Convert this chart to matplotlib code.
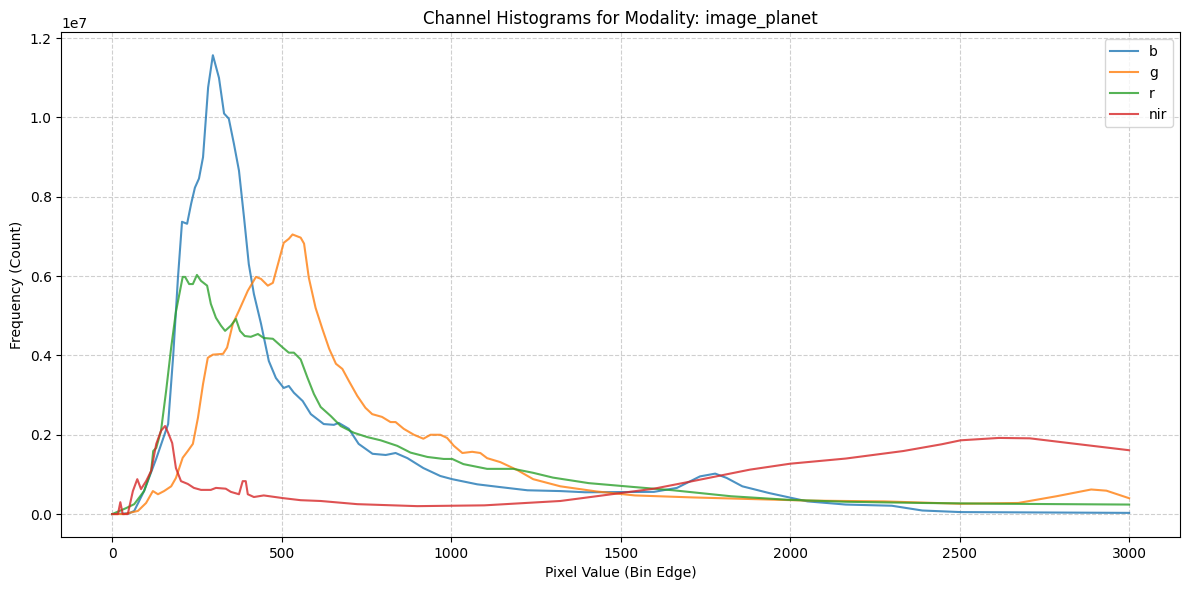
import numpy as np
import matplotlib
matplotlib.use("Agg")
import matplotlib.pyplot as plt

# channel histograms (x = bin edge, y in millions of counts)
b_x = [0, 50, 65, 94, 130, 165, 180, 194, 206, 221, 233, 244, 256, 268, 283, 297, 315, 330,
       344, 359, 374, 389, 403, 418, 439, 462, 483, 506, 521, 536, 562, 586, 624, 654, 668,
       698, 727, 768, 807, 836, 871, 918, 968, 1003, 1077, 1145, 1225, 1322, 1395, 1598,
       1666, 1734, 1779, 1813, 1859, 1938, 2051, 2164, 2300, 2390, 2503, 3000]
b_y = [0, 0.02, 0.08, 0.58, 1.4, 2.27, 4.0, 5.96, 7.37, 7.32, 7.83, 8.23, 8.46, 9.0, 10.76,
       11.57, 11.0, 10.1, 9.97, 9.34, 8.66, 7.47, 6.3, 5.55, 4.8, 3.86, 3.43, 3.18, 3.23,
       3.06, 2.85, 2.52, 2.27, 2.25, 2.3, 2.15, 1.77, 1.52, 1.49, 1.54, 1.41, 1.16, 0.96,
       0.88, 0.75, 0.68, 0.6, 0.58, 0.55, 0.56, 0.66, 0.95, 1.02, 0.91, 0.70, 0.53, 0.32,
       0.24, 0.21, 0.09, 0.05, 0.03]

g_x = [0, 35, 76, 100, 120, 135, 153, 174, 188, 208, 223, 238, 253, 268, 282, 297, 327, 339,
       356, 374, 400, 424, 439, 459, 474, 489, 506, 521, 532, 547, 556, 566, 580, 600, 620,
       640, 660, 679, 698, 723, 747, 767, 796, 821, 836, 860, 890, 918, 939, 968, 988, 1008,
       1033, 1062, 1086, 1106, 1145, 1195, 1242, 1322, 1429, 1542, 1712, 1881, 2051, 2277,
       2503, 2673, 2786, 2888, 2933, 3000]
g_y = [0, 0, 0.08, 0.28, 0.58, 0.5, 0.58, 0.7, 0.91, 1.42, 1.59, 1.77, 2.43, 3.28, 3.94,
       4.02, 4.04, 4.2, 4.8, 5.13, 5.63, 5.98, 5.93, 5.76, 5.83, 6.3, 6.84, 6.94, 7.05, 7.0,
       6.97, 6.82, 5.96, 5.2, 4.67, 4.17, 3.79, 3.66, 3.36, 2.98, 2.68, 2.52, 2.45, 2.32,
       2.32, 2.15, 2.0, 1.9, 2.0, 2.0, 1.92, 1.72, 1.54, 1.57, 1.54, 1.41, 1.31, 1.11, 0.88,
       0.7, 0.57, 0.47, 0.42, 0.38, 0.34, 0.32, 0.26, 0.28, 0.45, 0.62, 0.59, 0.4]

r_x = [0, 41, 65, 94, 115, 121, 130, 144, 159, 174, 188, 208, 215, 227, 238, 250, 262, 280,
       291, 306, 321, 333, 350, 365, 377, 391, 409, 430, 447, 474, 503, 521, 536, 556, 576,
       595, 615, 645, 674, 713, 753, 792, 841, 880, 930, 978, 1003, 1036, 1106, 1184, 1242,
       1300, 1406, 1542, 1655, 1825, 1994, 2164, 2390, 2616, 3000]
r_y = [0, 0.15, 0.25, 0.58, 1.09, 1.59, 1.67, 2.1, 3.1, 4.2, 5.1, 5.98, 5.98, 5.8, 5.8, 6.03,
       5.88, 5.76, 5.3, 4.95, 4.75, 4.62, 4.75, 4.92, 4.62, 4.49, 4.47, 4.54, 4.44, 4.42,
       4.2, 4.07, 4.07, 3.9, 3.44, 3.03, 2.7, 2.47, 2.22, 2.05, 1.94, 1.86, 1.72, 1.55, 1.44,
       1.39, 1.39, 1.26, 1.14, 1.14, 1.04, 0.92, 0.78, 0.68, 0.6, 0.45, 0.36, 0.31, 0.28,
       0.26, 0.24]

nir_x = [0, 17, 24, 31, 46, 61, 74, 85, 100, 115, 130, 144, 156, 165, 177, 188, 203, 223,
         241, 262, 291, 306, 335, 350, 374, 385, 394, 400, 418, 447, 506, 556, 615, 723, 900,
         1098, 1322, 1429, 1598, 1712, 1881, 2000, 2164, 2334, 2447, 2503, 2616, 2707, 2843,
         3000]
nir_y = [0, 0, 0.3, 0, 0, 0.58, 0.88, 0.63, 0.83, 1.09, 1.77, 2.1, 2.22, 2.05, 1.79, 1.16,
         0.83, 0.76, 0.66, 0.61, 0.61, 0.66, 0.64, 0.56, 0.5, 0.83, 0.83, 0.5, 0.43, 0.47,
         0.4, 0.35, 0.33, 0.25, 0.2, 0.22, 0.33, 0.45, 0.64, 0.83, 1.12, 1.27, 1.4, 1.59,
         1.76, 1.86, 1.92, 1.91, 1.77, 1.61]

channels = [("b", b_x, b_y), ("g", g_x, g_y), ("r", r_x, r_y), ("nir", nir_x, nir_y)]

fig, ax = plt.subplots(figsize=(11.89, 5.90), dpi=100)
for name, xs, ys in channels:
    ax.plot(xs, np.array(ys) * 1e6, label=name, alpha=0.8, lw=1.5)

ax.set_title("Channel Histograms for Modality: image_planet")
ax.set_xlabel("Pixel Value (Bin Edge)")
ax.set_ylabel("Frequency (Count)")
ax.grid(True, ls="--", alpha=0.6)
ax.legend(loc="upper right")
fig.subplots_adjust(left=0.0516, right=0.9924, top=0.9453, bottom=0.0898)
plt.savefig("out.png", dpi=100)
